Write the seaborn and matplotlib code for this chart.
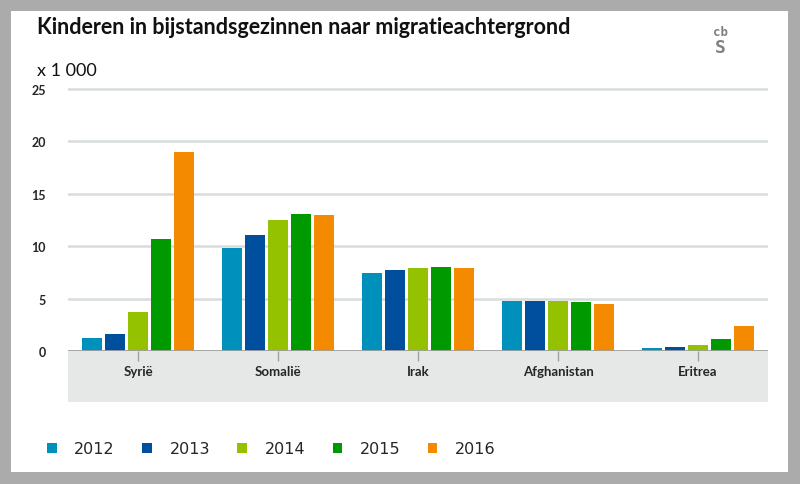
import numpy as np
import pandas as pd
import matplotlib.pyplot as plt
import seaborn as sns
from matplotlib.patches import Rectangle

# data (x 1 000 kinderen)
landen = ["Syrië", "Somalië", "Irak", "Afghanistan", "Eritrea"]
jaren = ["2012", "2013", "2014", "2015", "2016"]
j2012 = [1.2, 9.8, 7.4, 4.8, 0.3]
j2013 = [1.6, 11.1, 7.7, 4.8, 0.4]
j2014 = [3.7, 12.5, 7.9, 4.75, 0.6]
j2015 = [10.7, 13.1, 8.0, 4.7, 1.1]
j2016 = [19.0, 13.0, 7.9, 4.5, 2.4]
kleuren = ["#0090bc", "#004f9e", "#94c100", "#009a00", "#f38a00"]

rows = []
for jaar, waarden in zip(jaren, [j2012, j2013, j2014, j2015, j2016]):
    for land, v in zip(landen, waarden):
        rows.append({"land": land, "jaar": jaar, "waarde": v})
df = pd.DataFrame(rows)

sns.set_style("white")
plt.rcParams['font.family'] = ['Lato', 'DejaVu Sans']

W, H = 800, 485
fig = plt.figure(figsize=(W / 100, H / 100), dpi=100)
fig.patch.set_facecolor("#ababab")
# white card
fig.add_artist(Rectangle((11 / W, 12 / H), 777 / W, 461 / H, transform=fig.transFigure,
                         facecolor="white", edgecolor="none", zorder=-2))
# light grey band under the axis
fig.add_artist(Rectangle((68 / W, (H - 403) / H), 700 / W, 51 / H, transform=fig.transFigure,
                         facecolor="#e6e8e8", edgecolor="none", zorder=-1))

ymax = 25.1
px_per_unit = 262 / 25
ax = fig.add_axes([68 / W, (H - 352) / H, 700 / W, ymax * px_per_unit / H])
ax.set_facecolor("none")

sns.barplot(data=df, x="land", y="waarde", hue="jaar", palette=kleuren, ax=ax,
            width=0.82, gap=0.1, saturation=1, edgecolor="none", legend=True)

ax.set_ylim(0, ymax)
ax.set_xlim(-0.5, 4.5)
ax.set_yticks([0, 5, 10, 15, 20, 25])
ax.yaxis.grid(True, color="#d8dcdc", lw=1.8)
ax.set_axisbelow(True)
for s in ax.spines.values():
    s.set_visible(False)
ax.axhline(0, color="#a0a0a0", lw=2, zorder=3)

ax.set_xlabel("")
ax.set_ylabel("")
ax.tick_params(axis="x", length=7, width=1, color="#a0a0a0", pad=3, labelsize=9.5, direction="out")
ax.tick_params(axis="y", length=0, pad=16, labelsize=9)
for lab in ax.get_xticklabels() + ax.get_yticklabels():
    lab.set_fontweight("bold")
ax.xaxis.set_ticks_position("bottom")

fig.text(37 / W, 1 - 28 / H, "Kinderen in bijstandsgezinnen naar migratieachtergrond",
         fontsize=15.5, fontweight="bold", va="center", ha="left", color="#111111")
fig.text(37 / W, 1 - 71 / H, "x 1 000", fontsize=13, va="center", ha="left", color="#111111")

# cbs logo (approximation)
fig.text(720 / W, 1 - 33 / H, "cb", fontsize=9, ha="center", va="center", color="#808080",
         family="DejaVu Sans Mono", fontweight="bold")
fig.text(720 / W, 1 - 48 / H, "S", fontsize=13, ha="center", va="center", color="#808080",
         family="DejaVu Sans Mono", fontweight="bold")

sns.move_legend(ax, loc="center left", bbox_to_anchor=(47 / W, 1 - 450 / H),
                bbox_transform=fig.transFigure, ncol=5, frameon=False, title=None,
                fontsize=11.5, handlelength=0.6, handleheight=0.6, handletextpad=1.1,
                columnspacing=1.72, borderpad=0, borderaxespad=0)
for t in ax.get_legend().get_texts():
    t.set_family("DejaVu Sans")

fig.savefig("out.png", dpi=100, facecolor=fig.get_facecolor())
